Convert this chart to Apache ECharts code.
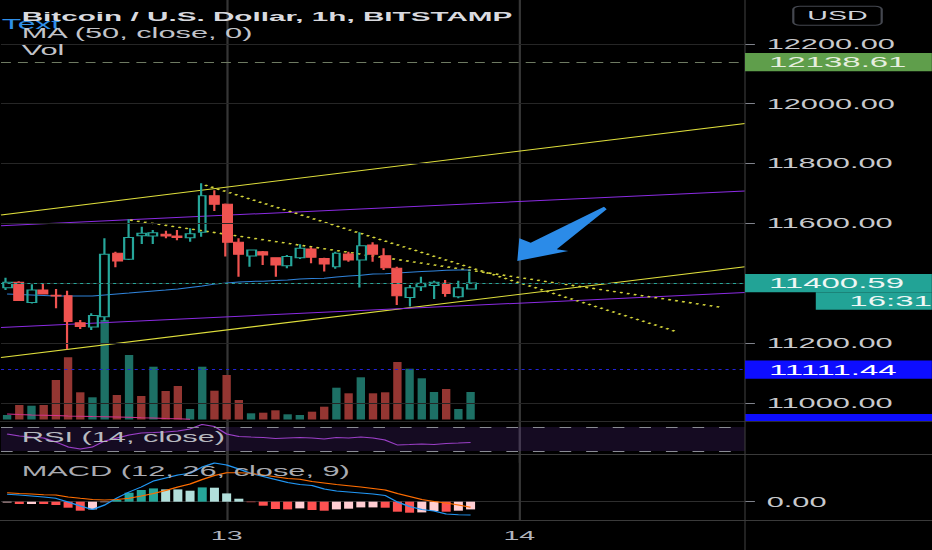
<!DOCTYPE html>
<html><head><meta charset="utf-8">
<script src="https://cdn.jsdelivr.net/npm/echarts@6/dist/echarts.min.js"></script>
<style>
html,body{margin:0;padding:0;background:#000;overflow:hidden;width:932px;height:550px}
#wrap{width:932px;height:550px;overflow:hidden;position:relative;background:#000}
#chart{width:424px;height:550px;transform:scaleX(2.198113);transform-origin:0 0}
</style></head>
<body><div id="wrap"><div id="chart"></div></div>
<script>
// ---------------- data ----------------
const titleText = 'Bitcoin / U.S. Dollar, 1h, BITSTAMP';
const maText = 'MA (50, close, 0)';
const volText = 'Vol';
const noteText = 'Text';
const rsiText = 'RSI (14, close)';
const macdText = 'MACD (12, 26, close, 9)';
const currency = 'USD';

const dayTicks = [18, 42];
const dayLabels = ['13', '14'];
const priceTicks = [11000, 11200, 11400, 11600, 11800, 12000, 12200];
const priceLabels = [11000, 11200, 11600, 11800, 12000, 12200];
const macdTicks = [0];

const opens  = [11385,11403,11336,11377,11360,11358,11268,11254,11288,11500,11480,11559,11558,11564,11558,11552,11570,11692,11664,11537,11491,11505,11485,11458,11485,11514,11483,11455,11498,11478,11528,11492,11450,11352,11388,11392,11400,11355,11381];
const closes = [11403,11342,11377,11364,11357,11272,11255,11292,11497,11474,11553,11567,11569,11558,11553,11565,11692,11664,11537,11497,11511,11494,11461,11489,11517,11487,11464,11500,11478,11525,11497,11452,11358,11385,11400,11403,11366,11385,11400.59];
const lows   = [11377,11341,11332,11363,11316,11179,11247,11244,11274,11453,11478,11531,11531,11550,11544,11539,11555,11641,11489,11422,11455,11461,11422,11450,11481,11467,11439,11448,11472,11386,11472,11444,11327,11322,11374,11347,11355,11350,11380];
const highs  = [11418,11407,11397,11400,11381,11375,11277,11300,11550,11505,11614,11589,11578,11575,11578,11584,11734,11711,11666,11550,11513,11508,11486,11494,11530,11520,11485,11505,11505,11570,11537,11517,11455,11394,11422,11408,11411,11408,11439];
const ma50   = [11364,11362,11361,11359,11357,11357,11357,11357,11361,11364,11367,11371,11374,11377,11381,11386,11391,11397,11401,11404,11406,11407,11409,11411,11414,11416,11417,11421,11424,11427,11431,11432,11434,11437,11439,11441,11443,11444,11444];

const volumes  = [4.5,14.5,13.8,14.5,39.5,62.2,27.2,22.2,99.5,24.5,64.5,23.5,52.8,28.5,33.5,10.5,52.8,28.8,44.5,19.5,6.2,6.8,9.2,5.2,4.5,7.8,12.8,31.8,26.2,42.2,26.2,27.2,57.5,50.8,41.2,27.5,30.5,10.5,27.5];
const volumeUp = [1,0,1,0,0,0,0,1,1,0,1,0,1,0,0,1,1,0,0,0,1,0,0,1,1,0,0,1,0,1,0,0,0,1,1,1,0,1,1];
const volumeLine = [5.5,5,4.6,4.3,4,3.6,3.3,3,2.8,2.5,2.2,1.8,1.5,1.1,0.8,0.3];

const rsi14 = [58.3,55,53.3,51.7,45,36.7,33.3,36.7,46.7,51.7,56.7,60,60.8,61.7,63.3,66.7,74.2,70.8,58.3,54.2,53.3,52.5,50.8,51.7,52.5,51.7,50,52.5,51.7,53.3,51.7,48.3,40,40.8,41.7,40.8,42.5,43.3,44.2];
const rsiBands = [30, 70];

const macdLine   = [7.4,6.7,5.7,4.7,3.4,-0.3,-4.3,-7.8,-3.3,3.7,9.7,14.7,20.7,23.7,26.7,28.4,34.7,38.7,36.7,32.7,28.2,25.2,22.2,19.2,17.2,16.2,12.7,10.7,9.7,8.7,7.7,6.2,-0.3,-4.8,-7.8,-9.3,-12.3,-13,-13.3];
const signalLine = [9,8.2,7.7,7,6.7,4.7,3.4,2.2,1.7,2.2,3.4,5.7,8.2,11.2,14.7,17.7,22.2,26.2,29,29,28.4,26.7,25,23.2,22.4,20.2,18.7,17.2,16,14.7,13.2,11.7,8.2,5.2,2.2,0.2,-1.3,-3.3,-5.6];
const histogram  = [-0.7,-2.3,-2.3,-2.3,-3.3,-6,-9,-7.7,-0.5,1.7,9,11.7,13.3,12.3,12.3,11,14.3,14,8.3,3,-0.5,-4,-7.3,-7.7,-6.7,-8.3,-9,-7.7,-7,-5.7,-5.7,-6,-10,-11,-10.7,-9.3,-10,-9,-7.7];
const histTone   = [1,0,1,0,0,0,0,1,1,2,2,2,2,3,3,3,2,3,3,3,0,0,0,0,1,0,0,1,1,1,1,0,0,0,1,1,0,1,1];

const lastPrice = 11400.59;
const countdown = '16:31';
const resistanceLevel = 12138.61;
const supportLevel = 11111.44;

// drawings: [x index, price]
const upperYellow = [[-0.5, 11628], [60.5, 11934]];
const upperPurple = [[-0.5, 11592], [60.5, 11708]];
const lowerYellow = [[-0.5, 11152], [60.5, 11455]];
const lowerPurple = [[-0.5, 11252], [60.5, 11369]];
const dottedUpper = [[16.23, 11728], [54.9, 11238]];
const dottedLower = [[10.08, 11611], [58.45, 11320]];

// ---------------- layout helpers ----------------
const S = 932 / 424;
const ix = v => v / S;
const GL = ix(1), GR = ix(187);
const AX = 424 - GR;
const FONT = '"Liberation Sans", Arial, sans-serif';
const TEAL = '#26a69a', RED = '#ef5350';
const histColors = ['#ff5252', '#ffcdd2', '#26a69a', '#b2dfdb'];

const candleData = opens.map((o, i) => [i, o, closes[i], lows[i], highs[i]]);
const idx = arr => arr.map((v, i) => [i, v]);

function baseX(grid, split) {
  return {
    type: 'value', gridIndex: grid, min: -0.5, max: 60.5,
    axisLine: {show: false, onZero: false},
    axisTick: {show: false, customValues: dayTicks},
    axisLabel: {show: false},
    splitLine: {show: split, lineStyle: {color: '#363636', width: 1}}
  };
}
function trend(points, color, dotted, w) {
  return {
    type: 'line', xAxisIndex: 0, yAxisIndex: 0, data: points, symbol: 'none', silent: true, z: 3,
    lineStyle: {color: color, width: w || 1, type: dotted ? [1.3, 2.0] : 'solid'}
  };
}
const tagBase = {
  show: true, position: 'end', distance: 0, fontSize: 15, fontFamily: FONT,
  width: 74.1, height: 14.3, lineHeight: 14.3, padding: [2, 0, 2, 10.9], align: 'left'
};

const xMacd = baseX(3, true);
xMacd.axisLabel = {
  show: true, customValues: dayTicks, color: '#b2b5be', fontSize: 13, fontFamily: FONT, margin: 8,
  formatter: v => dayLabels[dayTicks.indexOf(v)] || ''
};

function hiddenY(grid, min, max) {
  return {type: 'value', gridIndex: grid, min: min, max: max, show: false,
    axisLine: {show: false, onZero: false}, axisTick: {show: false}, axisLabel: {show: false}, splitLine: {show: false}};
}

const option = {
  backgroundColor: '#000',
  animation: false,
  grid: [
    {left: GL, right: GR, top: -16.06, height: 478.86, containLabel: false, outerBoundsMode: 'none'},
    {left: GL, right: GR, top: 300, height: 119.5, containLabel: false, outerBoundsMode: 'none'},
    {left: GL, right: GR, top: 421, height: 34, containLabel: false, outerBoundsMode: 'none'},
    {left: GL, right: GR, top: 455, height: 66, containLabel: false, outerBoundsMode: 'none'}
  ],
  xAxis: [baseX(0, true), baseX(1, false), baseX(2, true), xMacd],
  yAxis: [
    {
      type: 'value', gridIndex: 0, position: 'right', min: 10800, max: 12400,
      axisLine: {show: false, onZero: false},
      axisTick: {show: true, inside: false, length: 4.5, customValues: priceTicks, lineStyle: {color: '#80838c', width: 1}},
      axisLabel: {customValues: priceLabels, margin: 9.85, color: '#c8c9cc', fontSize: 14, fontFamily: FONT,
        formatter: v => v.toFixed(2)},
      splitLine: {show: false}
    },
    hiddenY(1, 0, 119.5),
    hiddenY(2, 23.33, 80),
    {
      type: 'value', gridIndex: 3, position: 'right', min: -19.3, max: 46.7,
      axisLine: {show: false, onZero: false},
      axisTick: {show: true, inside: false, length: 4.5, customValues: macdTicks, lineStyle: {color: '#80838c', width: 1}},
      axisLabel: {customValues: macdTicks, margin: 9.85, color: '#c8c9cc', fontSize: 14, fontFamily: FONT,
        formatter: v => v.toFixed(2)},
      splitLine: {show: true, lineStyle: {color: '#2e2e2e', width: 1}}
    }
  ],
  series: [
    {
      type: 'bar', xAxisIndex: 1, yAxisIndex: 1, barWidth: 3.8, silent: true, z: 1,
      data: volumes.map((v, i) => ({value: [i, v], itemStyle: {color: volumeUp[i] ? '#1d7065' : '#943632'}}))
    },
    {
      type: 'line', xAxisIndex: 1, yAxisIndex: 1, data: idx(volumeLine), symbol: 'none', silent: true, z: 2,
      lineStyle: {color: '#d6338f', width: 1}
    },
    {
      // horizontal price grid lines
      type: 'line', xAxisIndex: 0, yAxisIndex: 0, data: [], silent: true, z: 0,
      markLine: {
        symbol: ['none', 'none'], silent: true, animation: false, label: {show: false},
        lineStyle: {color: '#262626', width: 1, type: 'solid'},
        data: priceTicks.map(v => ({yAxis: v}))
      }
    },
    trend(upperYellow, '#dede3c'),
    trend(upperPurple, '#8a2be2'),
    trend(lowerYellow, '#dede3c'),
    trend(lowerPurple, '#8a2be2'),
    trend(dottedUpper, '#d4d43a', true, 1.5),
    trend(dottedLower, '#d4d43a', true, 1.5),
    {
      type: 'line', xAxisIndex: 0, yAxisIndex: 0, data: idx(ma50), symbol: 'none', silent: true, z: 3,
      lineStyle: {color: '#2f82d8', width: 1}
    },
    {
      type: 'candlestick', xAxisIndex: 0, yAxisIndex: 0, data: candleData,
      encode: {x: 0, y: [1, 2, 3, 4]}, barWidth: 4.4, silent: true, z: 4,
      itemStyle: {color: 'transparent', color0: RED, borderColor: TEAL, borderColor0: RED, borderWidth: 1},
      markLine: {
        symbol: ['none', 'none'], silent: true, animation: false,
        data: [
          {
            yAxis: resistanceLevel,
            lineStyle: {color: '#6e7a62', type: [4.5, 3.2], width: 1},
            label: Object.assign({}, tagBase, {formatter: resistanceLevel.toFixed(2), backgroundColor: '#5f9e4b', color: '#e6eedf'})
          },
          {
            yAxis: lastPrice,
            lineStyle: {color: TEAL, type: [1.4, 1.6], width: 1},
            label: {
              show: true, position: 'end', distance: 0, align: 'left',
              formatter: '{e| }\n{a|' + lastPrice.toFixed(2) + '}\n{b|' + countdown + '}',
              rich: {
                e: {height: 17.5, lineHeight: 17.5, fontSize: 10, color: 'transparent', fontFamily: FONT},
                a: {width: 74.1, height: 18.3, lineHeight: 18.3, padding: [0, 0, 0, 10.9], fontSize: 15,
                    backgroundColor: '#22a396', color: '#eef7f5', fontFamily: FONT},
                b: {width: 47.2, height: 17.5, lineHeight: 17.5, padding: [0, 0, 0, 5.6], fontSize: 15, align: 'right',
                    backgroundColor: '#22a396', color: '#eef7f5', fontFamily: FONT}
              }
            }
          },
          {
            yAxis: supportLevel,
            lineStyle: {color: '#2323d8', type: [1.4, 1.8], width: 1.2},
            label: Object.assign({}, tagBase, {formatter: supportLevel.toFixed(2), backgroundColor: '#0d0dff', color: '#ffffff'})
          }
        ]
      }
    },
    {
      type: 'line', xAxisIndex: 2, yAxisIndex: 2, data: idx(rsi14), symbol: 'none', silent: true, z: 3,
      lineStyle: {color: '#9a3fc6', width: 1},
      markArea: {silent: true, label: {show: false}, itemStyle: {color: 'rgba(130,70,210,0.16)'}, data: [[{yAxis: rsiBands[0]}, {yAxis: rsiBands[1]}]]},
      markLine: {
        symbol: ['none', 'none'], silent: true, label: {show: false},
        lineStyle: {color: '#8a8c94', type: [5.3, 6.8], width: 1},
        data: rsiBands.map(v => ({yAxis: v}))
      }
    },
    {
      type: 'bar', xAxisIndex: 3, yAxisIndex: 3, barWidth: 4.1, silent: true, z: 2,
      data: histogram.map((v, i) => ({value: [i, v], itemStyle: {color: histColors[histTone[i]]}}))
    },
    {
      type: 'line', xAxisIndex: 3, yAxisIndex: 3, data: idx(macdLine), symbol: 'none', silent: true, z: 3,
      lineStyle: {color: '#2196f3', width: 1}
    },
    {
      type: 'line', xAxisIndex: 3, yAxisIndex: 3, data: idx(signalLine), symbol: 'none', silent: true, z: 3,
      lineStyle: {color: '#ff6d00', width: 1}
    }
  ],
  graphic: [
    {type: 'line', silent: true, z: 5, shape: {x1: 0, y1: 421.5, x2: 424, y2: 421.5}, style: {stroke: '#2c2c2c', lineWidth: 1}},
    {type: 'line', silent: true, z: 5, shape: {x1: 0, y1: 454.5, x2: 424, y2: 454.5}, style: {stroke: '#3a3a3a', lineWidth: 1}},
    {type: 'line', silent: true, z: 5, shape: {x1: 0, y1: 520.5, x2: 424, y2: 520.5}, style: {stroke: '#3a3a3a', lineWidth: 1}},
    {type: 'line', silent: true, z: 5, shape: {x1: AX, y1: 0, x2: AX, y2: 550}, style: {stroke: '#3d3d3d', lineWidth: 0.5}},
    {type: 'rect', silent: true, z: 4, shape: {x: AX, y: 414, width: GR, height: 7}, style: {fill: '#0d0dff'}},
    {type: 'polygon', silent: true, z: 6, shape: {points: [
      [ix(517.3), 261], [ix(519.3), 238.3], [ix(530.7), 242.7], [ix(604), 206.7],
      [ix(606.7), 209.3], [ix(556.7), 249.3], [ix(568.3), 251]
    ]}, style: {fill: '#2b8be8'}},
    {type: 'rect', silent: true, z: 6, shape: {x: ix(793.3), y: 6.3, width: ix(88.4), height: 19, r: 3},
      style: {fill: 'transparent', stroke: '#44474f', lineWidth: 1}},
    {type: 'text', silent: true, z: 7, x: ix(837.5), y: 15.8,
      style: {text: currency, fill: '#d1d4dc', font: '13px ' + FONT, textAlign: 'center', align: 'center', textVerticalAlign: 'middle', verticalAlign: 'middle'}},
    {type: 'text', silent: true, z: 7, x: ix(1.7), y: 24.3,
      style: {text: noteText, fill: '#2f8fe8', font: '14.5px ' + FONT, textAlign: 'left', align: 'left', textVerticalAlign: 'middle', verticalAlign: 'middle'}},
    {type: 'text', silent: true, z: 8, x: ix(21.7), y: 16.3,
      style: {text: titleText, fill: '#d9dadf', font: 'bold 13.5px ' + FONT, textAlign: 'left', align: 'left', textVerticalAlign: 'middle', verticalAlign: 'middle'}},
    {type: 'text', silent: true, z: 8, x: ix(21.7), y: 33.5,
      style: {text: maText, fill: '#c2c4ca', font: '14px ' + FONT, textAlign: 'left', align: 'left', textVerticalAlign: 'middle', verticalAlign: 'middle'}},
    {type: 'text', silent: true, z: 8, x: ix(21.7), y: 50.2,
      style: {text: volText, fill: '#c2c4ca', font: '14px ' + FONT, textAlign: 'left', align: 'left', textVerticalAlign: 'middle', verticalAlign: 'middle'}},
    {type: 'text', silent: true, z: 8, x: ix(21.7), y: 436.8,
      style: {text: rsiText, fill: '#b8bac0', font: '14px ' + FONT, textAlign: 'left', align: 'left', textVerticalAlign: 'middle', verticalAlign: 'middle'}},
    {type: 'text', silent: true, z: 8, x: ix(21.7), y: 471.2,
      style: {text: macdText, fill: '#a9abb1', font: '14px ' + FONT, textAlign: 'left', align: 'left', textVerticalAlign: 'middle', verticalAlign: 'middle'}}
  ]
};

const chart = echarts.init(document.getElementById('chart'), null, {renderer: 'svg', width: 424, height: 550});
chart.setOption(option);
</script>
</body></html>
